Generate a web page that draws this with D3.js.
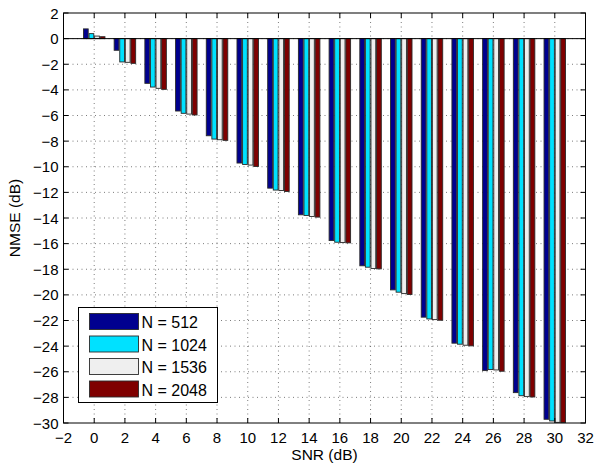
<!DOCTYPE html>
<html>
<head>
<meta charset="utf-8">
<script src="https://cdn.jsdelivr.net/npm/d3@7/dist/d3.min.js"></script>
<style>
  body { margin: 0; background: #fff; }
  svg { display: block; font-family: "Liberation Sans", Arial, sans-serif; }
</style>
</head>
<body>
<div id="chart"></div>
<script>
// SNR groups and NMSE per block length N
const snr = [0, 2, 4, 6, 8, 10, 12, 14, 16, 18, 20, 22, 24, 26, 28, 30];
const seriesNames = ['N = 512', 'N = 1024', 'N = 1536', 'N = 2048'];
const n512 = [0.76, -0.91, -3.49, -5.65, -7.58, -9.71, -11.67, -13.75, -15.76, -17.73, -19.61, -21.74, -23.77, -25.91, -27.63, -29.71];
const n1024 = [0.39, -1.82, -3.78, -5.83, -7.84, -9.82, -11.82, -13.80, -15.89, -17.84, -19.79, -21.88, -23.85, -25.83, -27.87, -29.84];
const n1536 = [0.20, -1.85, -3.88, -5.89, -7.89, -9.87, -11.85, -13.88, -15.91, -17.94, -19.90, -21.93, -23.93, -25.86, -27.94, -29.95];
const n2048 = [0.15, -1.93, -3.96, -5.96, -7.94, -9.98, -11.93, -13.93, -15.94, -17.97, -19.97, -21.98, -23.98, -25.96, -27.97, -29.97];
const xTicks = d3.range(-2, 33, 2);
const yTicks = d3.range(-30, 3, 2);

const series = [n512, n1024, n1536, n2048];
const colors = ['#00008f', '#00e1ff', '#efefef', '#7f0000'];

const W = 595, H = 468;
const margin = { left: 63.5, right: 9.5, top: 13, bottom: 45 };
const iw = W - margin.left - margin.right;
const ih = H - margin.top - margin.bottom;

const svg = d3.select('#chart').append('svg')
  .attr('width', W).attr('height', H);

const g = svg.append('g').attr('transform', `translate(${margin.left},${margin.top})`);

const x = d3.scaleLinear().domain([-2, 32]).range([0, iw]);
const y = d3.scaleLinear().domain([-30, 2]).range([ih, 0]);

const fmt = d => (d < 0 ? '\u2212' + Math.abs(d) : String(d));

// Grid (dotted)
g.append('g').selectAll('line.gx')
  .data(xTicks.slice(1, -1))
  .join('line')
  .attr('x1', d => x(d)).attr('x2', d => x(d))
  .attr('y1', 0).attr('y2', ih)
  .attr('stroke', '#444').attr('stroke-width', 0.7)
  .attr('stroke-dasharray', '1,3.5');

g.append('g').selectAll('line.gy')
  .data(yTicks.slice(1, -1))
  .join('line')
  .attr('y1', d => y(d)).attr('y2', d => y(d))
  .attr('x1', 0).attr('x2', iw)
  .attr('stroke', '#444').attr('stroke-width', 0.7)
  .attr('stroke-dasharray', '1,3.5');

// Grouped bars
const groupW = 2 * 4 / 5.5;        // MATLAB grouped bar width
const pitch = groupW / series.length;
const barW = pitch * 0.85;

series.forEach((vals, si) => {
  g.append('g').selectAll('rect')
    .data(vals.map((v, i) => ({ s: snr[i], v })))
    .join('rect')
    .attr('x', d => x(d.s + (si - 1.5) * pitch - barW / 2))
    .attr('width', x(barW) - x(0))
    .attr('y', d => y(Math.max(0, d.v)))
    .attr('height', d => Math.abs(y(d.v) - y(0)))
    .attr('fill', colors[si])
    .attr('stroke', '#2a2a2a')
    .attr('stroke-width', 0.9);
});

// Baseline
g.append('line')
  .attr('x1', 0).attr('x2', iw)
  .attr('y1', y(0)).attr('y2', y(0))
  .attr('stroke', '#000').attr('stroke-width', 1);

// Frame
g.append('rect')
  .attr('x', 0).attr('y', 0).attr('width', iw).attr('height', ih)
  .attr('fill', 'none').attr('stroke', '#000').attr('stroke-width', 1);

// Inward ticks on all sides
const tl = 5;
const tickG = g.append('g').attr('stroke', '#000').attr('stroke-width', 1);
xTicks.forEach(t => {
  tickG.append('line').attr('x1', x(t)).attr('x2', x(t)).attr('y1', ih).attr('y2', ih - tl);
  tickG.append('line').attr('x1', x(t)).attr('x2', x(t)).attr('y1', 0).attr('y2', tl);
});
yTicks.forEach(t => {
  tickG.append('line').attr('y1', y(t)).attr('y2', y(t)).attr('x1', 0).attr('x2', tl);
  tickG.append('line').attr('y1', y(t)).attr('y2', y(t)).attr('x1', iw).attr('x2', iw - tl);
});

// Tick labels
g.append('g').selectAll('text')
  .data(xTicks)
  .join('text')
  .attr('x', d => x(d)).attr('y', ih + 20)
  .attr('text-anchor', 'middle')
  .attr('font-size', 15)
  .text(fmt);

g.append('g').selectAll('text')
  .data(yTicks)
  .join('text')
  .attr('x', -5).attr('y', d => y(d) + 5.5)
  .attr('text-anchor', 'end')
  .attr('font-size', 15)
  .text(fmt);

// Axis labels, centred on the plot box
svg.append('text')
  .attr('x', margin.left + iw / 2).attr('y', H - 8)
  .attr('text-anchor', 'middle').attr('font-size', 15.5)
  .text('SNR (dB)');

svg.append('text')
  .attr('transform', `translate(20,${margin.top + ih / 2}) rotate(-90)`)
  .attr('text-anchor', 'middle').attr('font-size', 15.5)
  .text('NMSE (dB)');

// Legend
const lg = svg.append('g').attr('transform', 'translate(78.5,307.5)');
lg.append('rect')
  .attr('width', 139).attr('height', 95)
  .attr('fill', '#fff').attr('stroke', '#000').attr('stroke-width', 1);
seriesNames.forEach((name, i) => {
  const row = lg.append('g').attr('transform', `translate(0,${6 + i * 22.5})`);
  row.append('rect')
    .attr('x', 11).attr('y', 0).attr('width', 49).attr('height', 16)
    .attr('fill', colors[i]).attr('stroke', '#2a2a2a').attr('stroke-width', 0.9);
  row.append('text')
    .attr('x', 63).attr('y', 14.5)
    .attr('font-size', 16)
    .text(name);
});
</script>
</body>
</html>
